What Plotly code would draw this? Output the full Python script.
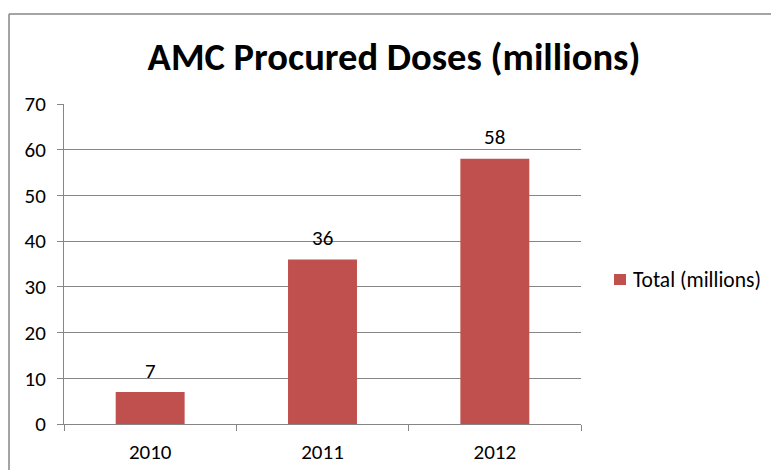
import plotly.graph_objects as go

years = ["2010", "2011", "2012"]
totals = [7, 36, 58]
series_name = "Total (millions)"
title_text = "AMC Procured Doses (millions)"

W, H = 771, 470
L, R, T, B = 64, 190, 104, 46
pw, ph = W - L - R, H - T - B
FONT = "Carlito, Calibri, Lato, Open Sans"
BAR = "#C0504D"


def px_x(x):
    return (x - L) / pw


def px_y(y):
    return (H - B - y) / ph


fig = go.Figure()
fig.add_trace(go.Bar(
    x=years, y=totals, name=series_name,
    marker=dict(color=BAR, line=dict(width=0)),
    width=0.4, showlegend=False,
))
for i, v in enumerate(totals):
    fig.add_annotation(x=i, y=v, xref="x", yref="y", text=str(v), showarrow=False,
                       yanchor="middle", yshift=21.5,
                       font=dict(size=21, color="#000000", family=FONT))

# legend (drawn manually to keep the plot area fixed)
fig.add_shape(type="rect", xref="paper", yref="paper",
              x0=px_x(614), x1=px_x(626), y0=px_y(285), y1=px_y(274),
              fillcolor=BAR, line=dict(width=0))
fig.add_annotation(xref="paper", yref="paper", x=px_x(631), y=px_y(279.5),
                   xanchor="left", yanchor="middle", text=series_name, showarrow=False,
                   font=dict(size=21.5, color="#000000", family=FONT))

fig.update_layout(
    width=W, height=H,
    margin=dict(l=L, r=R, t=T, b=B, pad=0),
    paper_bgcolor="white", plot_bgcolor="white",
    font=dict(family=FONT, size=21, color="#000000"),
    title=dict(text="<b>" + title_text + "</b>", x=394 / W, xanchor="center",
               y=1 - 57 / H, yanchor="middle",
               font=dict(size=38.5, color="#000000", family=FONT)),
    bargap=0.6,
    showlegend=False,
)
fig.update_xaxes(type="category", range=[-0.5, 2.5], showline=True, linecolor="#868686",
                 linewidth=1, ticks="outside", tickson="boundaries", ticklen=6,
                 tickcolor="#868686", showgrid=False, tickfont=dict(size=21), tickangle=0,
                 ticklabelstandoff=9, automargin=False)
fig.update_yaxes(range=[0, 70], dtick=10, showline=True, linecolor="#868686", linewidth=1,
                 ticks="outside", ticklen=6, tickcolor="#868686",
                 showgrid=True, gridcolor="#868686", gridwidth=1, zeroline=False,
                 tickfont=dict(size=21), ticklabelstandoff=7, automargin=False)

# chart border (top and left visible)
bx0 = px_x(9)
by1 = px_y(14)
fig.add_shape(type="line", xref="paper", yref="paper", x0=bx0, x1=px_x(W + 5),
              y0=by1, y1=by1, line=dict(color="#868686", width=1.5))
fig.add_shape(type="line", xref="paper", yref="paper", x0=bx0, x1=bx0,
              y0=by1, y1=px_y(H + 5), line=dict(color="#868686", width=1.5))

fig.write_html("out.html", config={"displayModeBar": False},
               post_script="document.body.style.margin='0';")
